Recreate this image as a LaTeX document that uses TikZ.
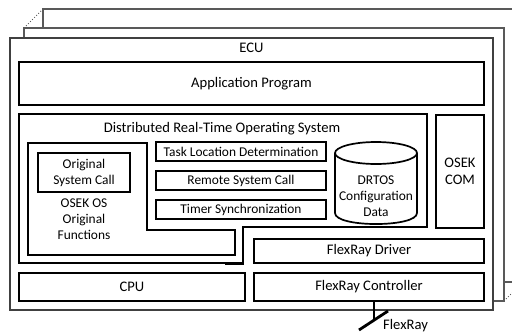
\documentclass[tikz,border=0pt]{standalone}
\usepackage{fontspec}
\setmainfont{Carlito}
\begin{document}
\begin{tikzpicture}[x=1pt,y=-1pt,
  stackbox/.style={draw=black!65, line width=1.1pt, fill=white},
  frontbox/.style={draw=black!75, line width=1.3pt, fill=white},
  blk/.style={draw=black, line width=1.7pt},
  bigtxt/.style={font=\fontsize{14.6}{17}\selectfont, align=center, inner sep=0pt},
  smalltxt/.style={font=\fontsize{13.4}{16}\selectfont, align=center, inner sep=0pt},
  rbox/.style={blk, inner sep=0pt, align=center}]
\useasboundingbox (0,0) rectangle (512,333);
\clip (0,0) rectangle (512,333);
% stacked ECUs
\draw[stackbox] (43,9) rectangle (523,282);
\draw[black!65, line width=0.9pt, dotted] (24,28) -- (43,9);
\draw[black!65, line width=0.9pt, dotted] (504,301) -- (523,282);
\draw[stackbox] (24,28) rectangle (504,301);
\draw[frontbox] (10,38) rectangle (493,310);
\node[bigtxt] (ecu) at (251.5,48) {ECU};
% application
\node[rbox, bigtxt, minimum width=465, minimum height=43] (app) at (251.5,83.5) {Application Program};
% DRTOS outline
\draw[blk] (19,114) -- (427,114) -- (427,227) -- (243,227) -- (243,263) -- (19,263) -- cycle;
\draw[line width=3pt] (225,263) -- (244,263);
\node[bigtxt] (drtos) at (222,129) {Distributed Real-Time Operating System};
% OSEK OS inner outline
\draw[blk] (28,143) -- (147,143) -- (147,230) -- (235,230) -- (235,255) -- (28,255) -- cycle;
\node[rbox, smalltxt, minimum width=92, minimum height=39] (orig) at (84,172.5) {Original\\System Call};
\node[smalltxt] (osekos) at (84,219) {OSEK OS\\Original\\Functions};
% DRTOS modules
\node[rbox, smalltxt, minimum width=170, minimum height=19] (task) at (241,151.5) {Task Location Determination};
\node[rbox, smalltxt, minimum width=170, minimum height=19] (remote) at (241,180.5) {Remote System Call};
\node[rbox, smalltxt, minimum width=170, minimum height=19] (timer) at (241,209.5) {Timer Synchronization};
% cylinder
\draw[blk] (376,153) ellipse [x radius=41, y radius=11];
\draw[blk] (335,153) -- (335,213) .. controls (335,227.7) and (417,227.7) .. (417,213) -- (417,153);
\node[smalltxt] (cfg) at (376,196) {DRTOS\\Configuration\\Data};
% OSEK COM
\node[rbox, bigtxt, minimum width=48, minimum height=113] (com) at (460,171.5) {OSEK\\COM};
% lower layers
\node[rbox, bigtxt, minimum width=230, minimum height=24] (drv) at (369,251) {FlexRay Driver};
\node[rbox, bigtxt, minimum width=226, minimum height=28] (cpu) at (132,287) {CPU};
\node[rbox, bigtxt, minimum width=230, minimum height=28] (ctrl) at (369,287) {FlexRay Controller};
% FlexRay bus
\coordinate (fxend) at (374,320);
\coordinate (fxa) at (359,330);
\coordinate (fxb) at (388,311);
\draw[line width=1.6pt] (ctrl.south -| fxend) -- (fxend);
\draw[line width=2.8pt] (fxa) -- (fxb);
\node[bigtxt, anchor=west] (fxlbl) at (383,326) {FlexRay};
\end{tikzpicture}
\end{document}
